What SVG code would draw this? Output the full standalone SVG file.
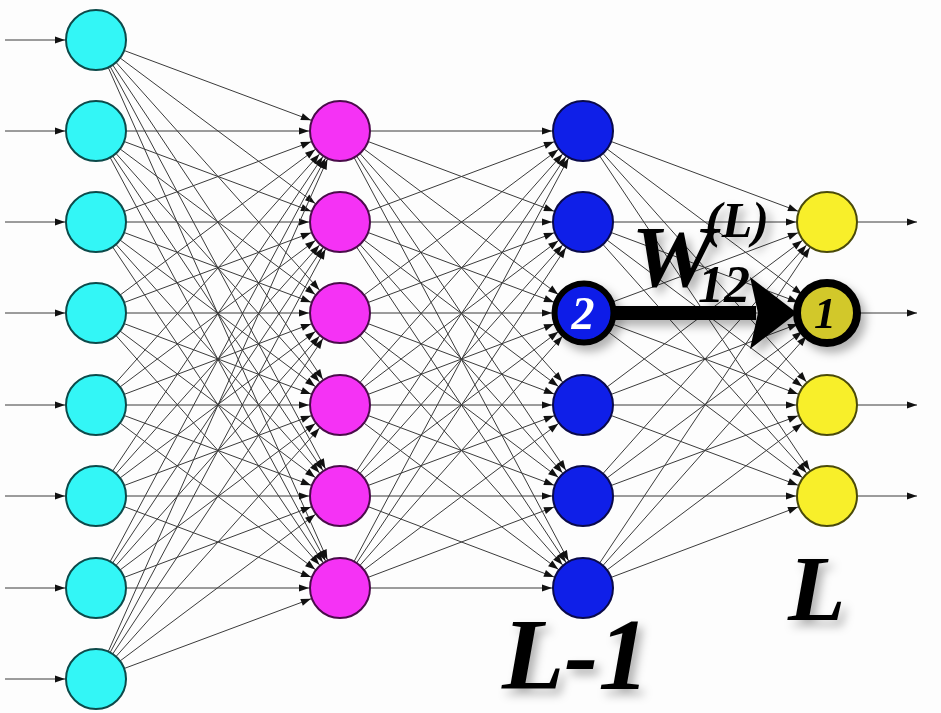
<svg xmlns="http://www.w3.org/2000/svg" width="941" height="713" viewBox="0 0 941 713">
<style>
.e line{stroke:#3a3a3a;stroke-width:1;marker-end:url(#a)}
.io line{stroke:#3a3a3a;stroke-width:1}
.c1{fill:#33f6f6;stroke:#0c4a4a;stroke-width:2}
.c2{fill:#f532f5;stroke:#4a0c4a;stroke-width:2}
.c3{fill:#0f1fe8;stroke:#0a0a4a;stroke-width:2}
.c4{fill:#f8ef2a;stroke:#4a4a0a;stroke-width:2}
.lbl{font-family:"Liberation Serif","DejaVu Serif",serif;font-weight:bold;font-style:italic}
</style>
<defs>
<marker id="a" markerUnits="userSpaceOnUse" refX="31" refY="0" markerWidth="10" markerHeight="10" orient="auto" overflow="visible"><path d="M-10,-3.6 L0,0 L-10,3.6 z" fill="#111"/></marker>
<marker id="b" markerUnits="userSpaceOnUse" refX="0" refY="0" markerWidth="10" markerHeight="10" orient="auto" overflow="visible"><path d="M-10,-3.6 L0,0 L-10,3.6 z" fill="#111"/></marker>
<filter id="sh" x="-30%" y="-30%" width="170%" height="170%"><feDropShadow dx="5" dy="6" stdDeviation="5" flood-color="#000" flood-opacity="0.3"/></filter>
</defs>
<rect width="941" height="713" fill="#fdfdfd"/>
<g id="connectors">
<g class="io">
<line x1="5" y1="40" x2="96" y2="40" marker-end="url(#a)"/>
<line x1="5" y1="131" x2="96" y2="131" marker-end="url(#a)"/>
<line x1="5" y1="222" x2="96" y2="222" marker-end="url(#a)"/>
<line x1="5" y1="313" x2="96" y2="313" marker-end="url(#a)"/>
<line x1="5" y1="405" x2="96" y2="405" marker-end="url(#a)"/>
<line x1="5" y1="496" x2="96" y2="496" marker-end="url(#a)"/>
<line x1="5" y1="588" x2="96" y2="588" marker-end="url(#a)"/>
<line x1="5" y1="679" x2="96" y2="679" marker-end="url(#a)"/>
<line x1="858" y1="222" x2="917" y2="222" marker-end="url(#b)"/>
<line x1="858" y1="313" x2="917" y2="313" marker-end="url(#b)"/>
<line x1="858" y1="405" x2="917" y2="405" marker-end="url(#b)"/>
<line x1="858" y1="496" x2="917" y2="496" marker-end="url(#b)"/>
</g>
<g class="e">
<line x1="96" y1="40" x2="340" y2="131"/><line x1="96" y1="40" x2="340" y2="222"/><line x1="96" y1="40" x2="340" y2="313"/><line x1="96" y1="40" x2="340" y2="405"/><line x1="96" y1="40" x2="340" y2="496"/><line x1="96" y1="40" x2="340" y2="588"/>
<line x1="96" y1="131" x2="340" y2="131"/><line x1="96" y1="131" x2="340" y2="222"/><line x1="96" y1="131" x2="340" y2="313"/><line x1="96" y1="131" x2="340" y2="405"/><line x1="96" y1="131" x2="340" y2="496"/><line x1="96" y1="131" x2="340" y2="588"/>
<line x1="96" y1="222" x2="340" y2="131"/><line x1="96" y1="222" x2="340" y2="222"/><line x1="96" y1="222" x2="340" y2="313"/><line x1="96" y1="222" x2="340" y2="405"/><line x1="96" y1="222" x2="340" y2="496"/><line x1="96" y1="222" x2="340" y2="588"/>
<line x1="96" y1="313" x2="340" y2="131"/><line x1="96" y1="313" x2="340" y2="222"/><line x1="96" y1="313" x2="340" y2="313"/><line x1="96" y1="313" x2="340" y2="405"/><line x1="96" y1="313" x2="340" y2="496"/><line x1="96" y1="313" x2="340" y2="588"/>
<line x1="96" y1="405" x2="340" y2="131"/><line x1="96" y1="405" x2="340" y2="222"/><line x1="96" y1="405" x2="340" y2="313"/><line x1="96" y1="405" x2="340" y2="405"/><line x1="96" y1="405" x2="340" y2="496"/><line x1="96" y1="405" x2="340" y2="588"/>
<line x1="96" y1="496" x2="340" y2="131"/><line x1="96" y1="496" x2="340" y2="222"/><line x1="96" y1="496" x2="340" y2="313"/><line x1="96" y1="496" x2="340" y2="405"/><line x1="96" y1="496" x2="340" y2="496"/><line x1="96" y1="496" x2="340" y2="588"/>
<line x1="96" y1="588" x2="340" y2="131"/><line x1="96" y1="588" x2="340" y2="222"/><line x1="96" y1="588" x2="340" y2="313"/><line x1="96" y1="588" x2="340" y2="405"/><line x1="96" y1="588" x2="340" y2="496"/><line x1="96" y1="588" x2="340" y2="588"/>
<line x1="96" y1="679" x2="340" y2="131"/><line x1="96" y1="679" x2="340" y2="222"/><line x1="96" y1="679" x2="340" y2="313"/><line x1="96" y1="679" x2="340" y2="405"/><line x1="96" y1="679" x2="340" y2="496"/><line x1="96" y1="679" x2="340" y2="588"/>
<line x1="340" y1="131" x2="583" y2="131"/><line x1="340" y1="131" x2="583" y2="222"/><line x1="340" y1="131" x2="583" y2="313"/><line x1="340" y1="131" x2="583" y2="405"/><line x1="340" y1="131" x2="583" y2="496"/><line x1="340" y1="131" x2="583" y2="588"/>
<line x1="340" y1="222" x2="583" y2="131"/><line x1="340" y1="222" x2="583" y2="222"/><line x1="340" y1="222" x2="583" y2="313"/><line x1="340" y1="222" x2="583" y2="405"/><line x1="340" y1="222" x2="583" y2="496"/><line x1="340" y1="222" x2="583" y2="588"/>
<line x1="340" y1="313" x2="583" y2="131"/><line x1="340" y1="313" x2="583" y2="222"/><line x1="340" y1="313" x2="583" y2="313"/><line x1="340" y1="313" x2="583" y2="405"/><line x1="340" y1="313" x2="583" y2="496"/><line x1="340" y1="313" x2="583" y2="588"/>
<line x1="340" y1="405" x2="583" y2="131"/><line x1="340" y1="405" x2="583" y2="222"/><line x1="340" y1="405" x2="583" y2="313"/><line x1="340" y1="405" x2="583" y2="405"/><line x1="340" y1="405" x2="583" y2="496"/><line x1="340" y1="405" x2="583" y2="588"/>
<line x1="340" y1="496" x2="583" y2="131"/><line x1="340" y1="496" x2="583" y2="222"/><line x1="340" y1="496" x2="583" y2="313"/><line x1="340" y1="496" x2="583" y2="405"/><line x1="340" y1="496" x2="583" y2="496"/><line x1="340" y1="496" x2="583" y2="588"/>
<line x1="340" y1="588" x2="583" y2="131"/><line x1="340" y1="588" x2="583" y2="222"/><line x1="340" y1="588" x2="583" y2="313"/><line x1="340" y1="588" x2="583" y2="405"/><line x1="340" y1="588" x2="583" y2="496"/><line x1="340" y1="588" x2="583" y2="588"/>
<line x1="583" y1="131" x2="827" y2="222"/><line x1="583" y1="131" x2="827" y2="313"/><line x1="583" y1="131" x2="827" y2="405"/><line x1="583" y1="131" x2="827" y2="496"/>
<line x1="583" y1="222" x2="827" y2="222"/><line x1="583" y1="222" x2="827" y2="313"/><line x1="583" y1="222" x2="827" y2="405"/><line x1="583" y1="222" x2="827" y2="496"/>
<line x1="583" y1="313" x2="827" y2="222"/><line x1="583" y1="313" x2="827" y2="313"/><line x1="583" y1="313" x2="827" y2="405"/><line x1="583" y1="313" x2="827" y2="496"/>
<line x1="583" y1="405" x2="827" y2="222"/><line x1="583" y1="405" x2="827" y2="313"/><line x1="583" y1="405" x2="827" y2="405"/><line x1="583" y1="405" x2="827" y2="496"/>
<line x1="583" y1="496" x2="827" y2="222"/><line x1="583" y1="496" x2="827" y2="313"/><line x1="583" y1="496" x2="827" y2="405"/><line x1="583" y1="496" x2="827" y2="496"/>
<line x1="583" y1="588" x2="827" y2="222"/><line x1="583" y1="588" x2="827" y2="313"/><line x1="583" y1="588" x2="827" y2="405"/><line x1="583" y1="588" x2="827" y2="496"/>
</g>
<g id="highlight-arrow" filter="url(#sh)">
<rect x="610" y="306" width="146" height="14" fill="#000"/>
<path d="M750,277 L797,313 L750,349 L758,313 z" fill="#000"/>
</g>
</g>
<g id="n1_1"><circle class="c1" cx="96" cy="40" r="30"/></g>
<g id="n1_2"><circle class="c1" cx="96" cy="131" r="30"/></g>
<g id="n1_3"><circle class="c1" cx="96" cy="222" r="30"/></g>
<g id="n1_4"><circle class="c1" cx="96" cy="313" r="30"/></g>
<g id="n1_5"><circle class="c1" cx="96" cy="405" r="30"/></g>
<g id="n1_6"><circle class="c1" cx="96" cy="496" r="30"/></g>
<g id="n1_7"><circle class="c1" cx="96" cy="588" r="30"/></g>
<g id="n1_8"><circle class="c1" cx="96" cy="679" r="30"/></g>
<g id="n2_1"><circle class="c2" cx="340" cy="131" r="30"/></g>
<g id="n2_2"><circle class="c2" cx="340" cy="222" r="30"/></g>
<g id="n2_3"><circle class="c2" cx="340" cy="313" r="30"/></g>
<g id="n2_4"><circle class="c2" cx="340" cy="405" r="30"/></g>
<g id="n2_5"><circle class="c2" cx="340" cy="496" r="30"/></g>
<g id="n2_6"><circle class="c2" cx="340" cy="588" r="30"/></g>
<g id="n3_1"><circle class="c3" cx="583" cy="131" r="30"/></g>
<g id="n3_2"><circle class="c3" cx="583" cy="222" r="30"/></g>
<g id="n3_3" filter="url(#sh)"><circle cx="584" cy="313" r="29.5" fill="#0f1fe8" stroke="#000" stroke-width="6"/><text class="lbl" x="583" y="329" font-size="46" fill="#fff" text-anchor="middle">2</text></g>
<g id="n3_4"><circle class="c3" cx="583" cy="405" r="30"/></g>
<g id="n3_5"><circle class="c3" cx="583" cy="496" r="30"/></g>
<g id="n3_6"><circle class="c3" cx="583" cy="588" r="30"/></g>
<g id="n4_1"><circle class="c4" cx="827" cy="222" r="30"/></g>
<g id="n4_2" filter="url(#sh)"><circle cx="827" cy="313" r="30" fill="#d2c82c" stroke="#000" stroke-width="8"/><text class="lbl" x="825" y="328" font-size="44" fill="#000" text-anchor="middle">1</text></g>
<g id="n4_3"><circle class="c4" cx="827" cy="405" r="30"/></g>
<g id="n4_4"><circle class="c4" cx="827" cy="496" r="30"/></g>
<g id="labels" filter="url(#sh)">
<text class="lbl" x="631" y="286" font-size="86" fill="#000" textLength="84" lengthAdjust="spacingAndGlyphs">W</text>
<text class="lbl" x="705" y="237" font-size="50" fill="#000">(L)</text>
<text class="lbl" x="698" y="302" font-size="52" fill="#000">12</text>
<text class="lbl" x="502" y="689" font-size="102" fill="#000">L-1</text>
<text class="lbl" x="788" y="620" font-size="94" fill="#000">L</text>
</g>
</svg>
